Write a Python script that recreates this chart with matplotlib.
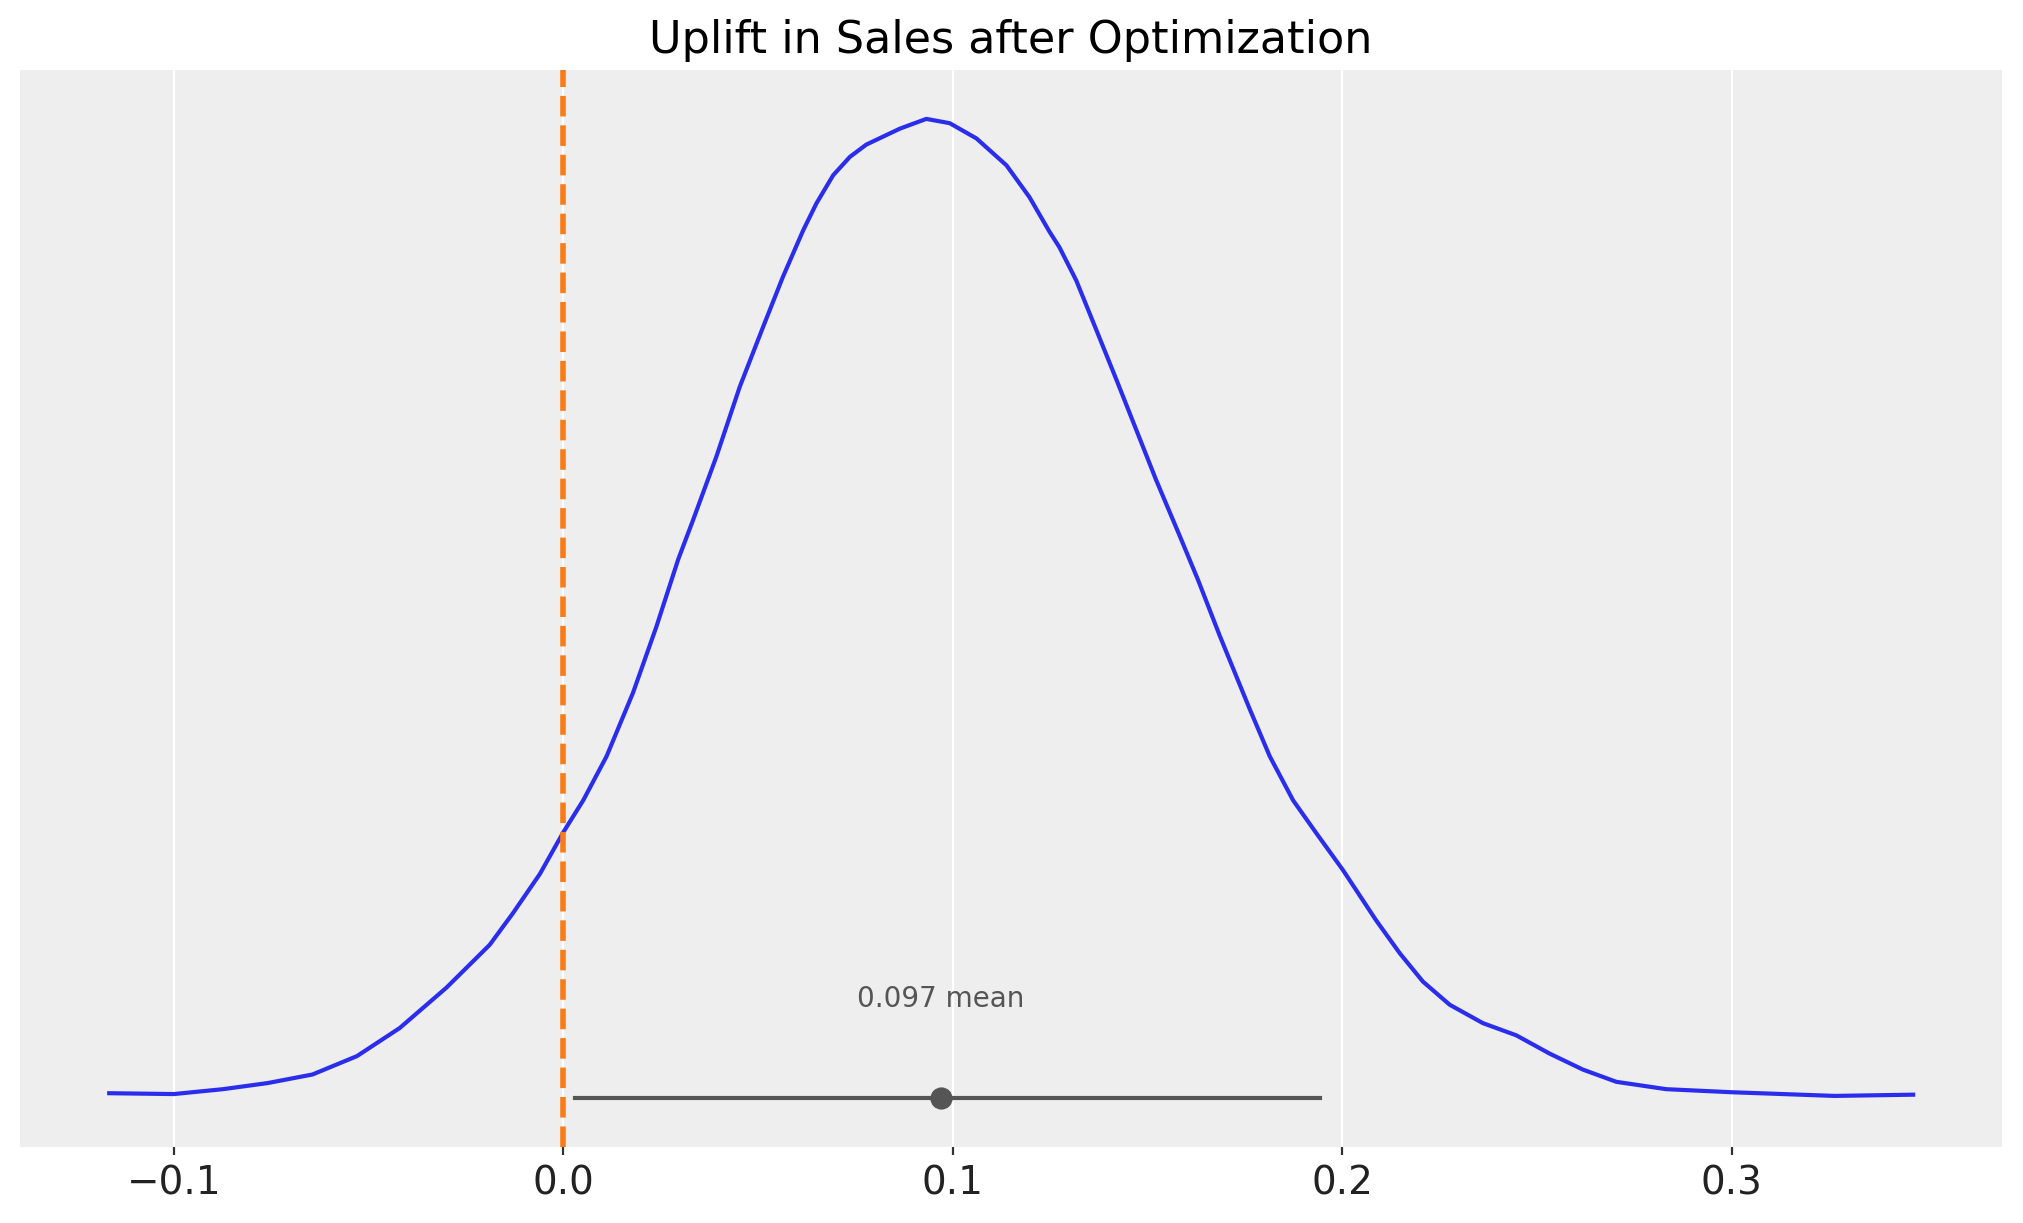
import matplotlib
matplotlib.use("Agg")
import matplotlib.pyplot as plt

# posterior density of the uplift
uplift_x = [-0.1166, -0.1000, -0.0874, -0.0759, -0.0644, -0.0530, -0.0420, -0.0300,
            -0.0189, -0.0129, -0.0060, 0.0, 0.0051, 0.0111, 0.0179, 0.0239,
            0.0295, 0.0333, 0.0393, 0.0453, 0.0513, 0.0564, 0.0616, 0.0650,
            0.0693, 0.0736, 0.0778, 0.0864, 0.0932, 0.0992, 0.1061, 0.1138,
            0.1197, 0.1248, 0.1274, 0.1317, 0.1368, 0.1420, 0.1471, 0.1522,
            0.1583, 0.1630, 0.1685, 0.1762, 0.1814, 0.1874, 0.1934, 0.2002,
            0.2087, 0.2148, 0.2207, 0.2276, 0.2361, 0.2447, 0.2533, 0.2618,
            0.2704, 0.2832, 0.3000, 0.3264, 0.3466]
density = [0.037, 0.030, 0.07, 0.12, 0.19, 0.34, 0.57, 0.90,
           1.25, 1.51, 1.83, 2.17, 2.43, 2.79, 3.31, 3.85,
           4.40, 4.72, 5.24, 5.81, 6.30, 6.71, 7.09, 7.31,
           7.54, 7.69, 7.79, 7.92, 8.00, 7.965, 7.84, 7.62,
           7.36, 7.08, 6.95, 6.68, 6.28, 5.87, 5.46, 5.05,
           4.59, 4.23, 3.78, 3.18, 2.79, 2.43, 2.16, 1.86,
           1.45, 1.18, 0.95, 0.76, 0.61, 0.51, 0.36, 0.23,
           0.13, 0.07, 0.045, 0.015, 0.025]

hdi_low, hdi_high = 0.003, 0.1943
mean_value = 0.097
ref_value = 0.0
xticks = [-0.1, 0.0, 0.1, 0.2, 0.3]

fig = plt.figure(figsize=(10.115, 6.115), dpi=200)
ax = fig.add_axes([0.0099, 0.0624, 0.9797, 0.8804])
ax.set_facecolor('#eeeeee')
for s in ax.spines.values():
    s.set_visible(False)

# gridlines on x only
ax.set_axisbelow(True)
ax.grid(True, axis='x', color='white', linewidth=0.8)

# density curve
ax.plot(uplift_x, density, color='#2a2eec', linewidth=1.5,
        solid_joinstyle='round')

# hdi bar with mean point
ax.plot([hdi_low, hdi_high], [0.0, 0.0], color='#555555', linewidth=1.5)
ax.plot([mean_value], [0.0], 'o', color='#555555', markersize=7)
ax.text(mean_value, 0.81, f'{mean_value:.3f} mean', ha='center', va='center',
        fontsize=10, color='#555555')

# reference line at zero
ax.axvline(ref_value, color='#fa7c17', linestyle='--', linewidth=2)

ax.set_xlim(-0.1395, 0.3694)
ax.set_ylim(-0.4, 8.4)
ax.set_xticks(xticks)
ax.set_yticks([])
ax.tick_params(axis='x', labelsize=14, length=3, color='#333333', labelcolor='#222222')
ax.set_title('Uplift in Sales after Optimization', fontsize=16)

fig.savefig('out.png', dpi=200)
